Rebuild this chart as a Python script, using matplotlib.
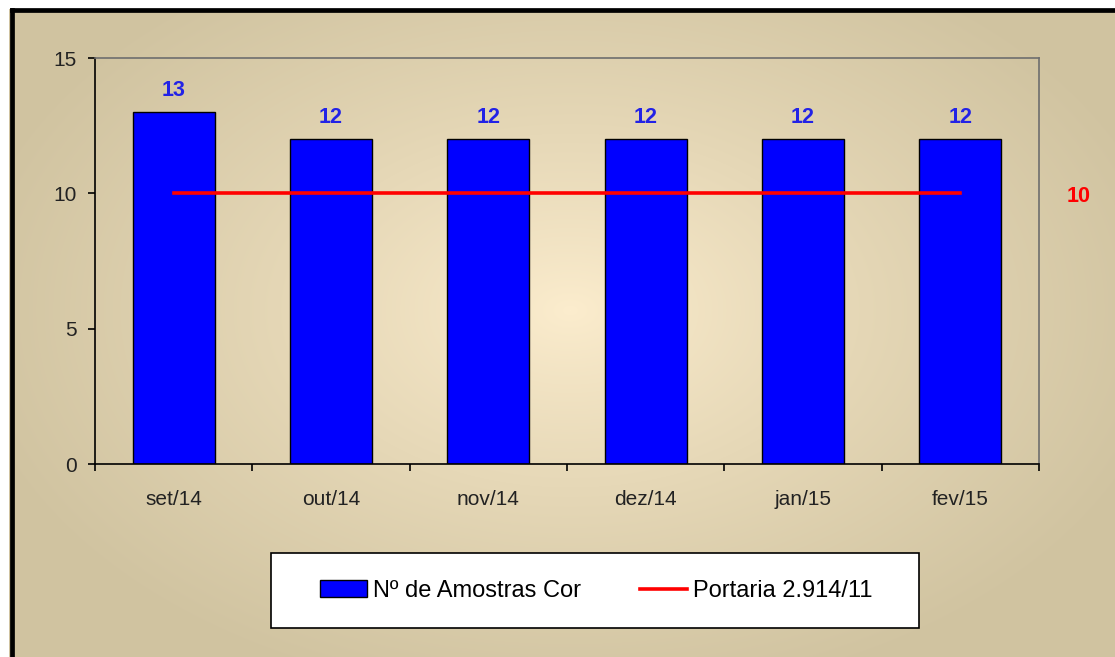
import numpy as np
import matplotlib
matplotlib.use("Agg")
import matplotlib.pyplot as plt
from matplotlib.patches import Rectangle, Patch
from matplotlib.lines import Line2D

categories = ["set/14", "out/14", "nov/14", "dez/14", "jan/15", "fev/15"]
amostras = [13, 12, 12, 12, 12, 12]
portaria = [10, 10, 10, 10, 10, 10]
yticks = [0, 5, 10, 15]

W, H = 1115, 657
fig = plt.figure(figsize=(W / 100, H / 100), dpi=100)
plt.rcParams['font.family'] = ['Liberation Sans', 'DejaVu Sans']

# background gradient
bg = fig.add_axes([0, 0, 1, 1], zorder=0)
bg.set_axis_off()
yy, xx = np.mgrid[0:H, 0:W]
cx, cy, rx, ry = 570, 310, 620, 400
d = np.sqrt(((xx - cx) / rx) ** 2 + ((yy - cy) / ry) ** 2)
t = np.clip(d, 0, 1) ** 0.85
c0 = np.array([252, 237, 206]) / 255
c1 = np.array([208, 195, 160]) / 255
img = c0[None, None, :] * (1 - t[..., None]) + c1[None, None, :] * t[..., None]
img[:9, :, :] = 1
img[:, :9, :] = 1
bg.imshow(img, extent=[0, W, H, 0], aspect='auto')
bg.set_xlim(0, W)
bg.set_ylim(H, 0)
bg.plot([11.5, 11.5], [10, H], color='black', lw=3.4, solid_capstyle='projecting')
bg.plot([11.5, W], [10, 10], color='black', lw=3.4, solid_capstyle='projecting')

# legend box
bg.add_patch(Rectangle((271, 553), 648, 75, facecolor='white', edgecolor='black', lw=1.2))

ax = fig.add_axes([95 / W, 1 - 464 / H, (1039 - 95) / W, (464 - 58) / H], zorder=1)
ax.patch.set_alpha(0)
x = np.arange(len(categories))
ax.bar(x, amostras, width=0.52, color='#0000FF', edgecolor='black', linewidth=1.0, zorder=2)
ax.plot(x, portaria, color='#FF0000', lw=2.6, zorder=3)
for xi, v in zip(x, amostras):
    ax.text(xi, v + 0.42, str(v), ha='center', va='bottom', color='#2222E6',
            fontsize=15.5, fontweight='bold')
ax.text(5.75, portaria[-1] - 0.1, str(portaria[-1]), ha='center', va='center', color='#FF0000',
        fontsize=15.5, fontweight='bold', clip_on=False)

ax.set_xlim(-0.5, len(categories) - 0.5)
ax.set_ylim(0, 15)
ax.set_yticks(yticks)
ax.set_yticklabels([str(v) for v in yticks], fontsize=15, color='#222222')
ax.set_xticks(x)
ax.set_xticklabels(categories, fontsize=15, color='#222222')
ax.set_xticks(np.arange(-0.5, len(categories)), minor=True)
ax.tick_params(axis='x', which='major', length=0, pad=19)
ax.tick_params(axis='x', which='minor', length=5, direction='out', width=1.2)
ax.tick_params(axis='y', length=5, direction='out', width=1.2, pad=8)
for s in ['left', 'bottom']:
    ax.spines[s].set_color('black')
    ax.spines[s].set_linewidth(1.2)
for s in ['top', 'right']:
    ax.spines[s].set_color('#6e6e6e')
    ax.spines[s].set_linewidth(1.2)

handles = [Patch(facecolor='#0000FF', edgecolor='black', linewidth=1.0),
           Line2D([0], [0], color='#FF0000', lw=2.6)]
fig.legend(handles, ["Nº de Amostras Cor", "Portaria 2.914/11"], loc='center',
           bbox_to_anchor=(596 / W, 1 - 591 / H), ncol=2, frameon=False,
           fontsize=17, handlelength=2.0, handleheight=0.7, handletextpad=0.25,
           columnspacing=2.5)

fig.savefig("out.png", dpi=100)
